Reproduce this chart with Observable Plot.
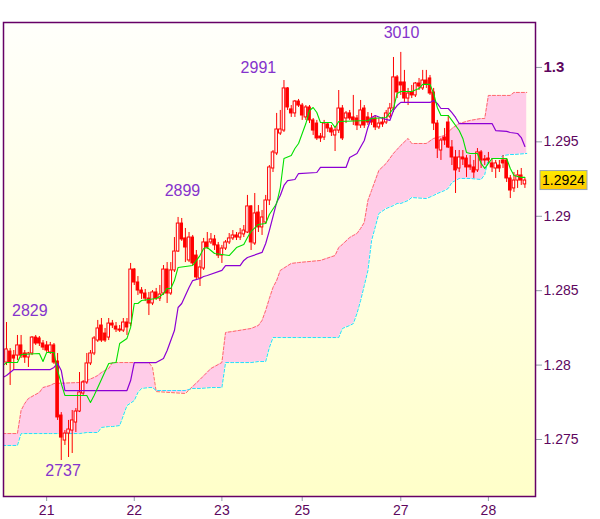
<!DOCTYPE html>
<html><head><meta charset="utf-8">
<script src="https://cdn.jsdelivr.net/npm/d3@7"></script>
<script src="https://cdn.jsdelivr.net/npm/@observablehq/plot@0.6"></script>
<style>body{margin:0;background:#fff}#chart{width:600px;height:519px}</style>
</head><body><div id="chart"></div>
<script>
// ---- hourly candles, bar index 0..142 ----
const open = [1.28017,1.28091,1.28064,1.28064,1.28132,1.28078,1.28051,1.28078,1.28185,1.28179,
1.28145,1.28132,1.28085,1.28132,1.28024,1.27661,1.27493,1.27540,1.27560,1.27614,
1.27688,1.27809,1.27883,1.28011,1.28078,1.28165,1.28266,1.28212,1.28185,1.28279,
1.28259,1.28239,1.28232,1.28286,1.28279,1.28642,1.28555,1.28501,1.28481,1.28447,
1.28414,1.28488,1.28447,1.28481,1.28642,1.28481,1.28636,1.28763,1.28951,1.28851,
1.28703,1.28857,1.28736,1.28582,1.28649,1.28824,1.28824,1.28844,1.28804,1.28736,
1.28783,1.28824,1.28851,1.28871,1.28857,1.28878,1.28891,1.29066,1.28817,1.29025,
1.28925,1.28958,1.29106,1.29321,1.29422,1.29556,1.29576,1.29859,1.29718,1.29691,
1.29771,1.29744,1.29664,1.29731,1.29644,1.29623,1.29536,1.29529,1.29617,1.29590,
1.29543,1.29576,1.29724,1.29657,1.29691,1.29664,1.29657,1.29610,1.29724,1.29664,
1.29657,1.29657,1.29597,1.29630,1.29630,1.29670,1.29724,1.29933,1.29899,1.29899,
1.29791,1.29832,1.29812,1.29892,1.29859,1.29912,1.29926,1.29832,1.29623,1.29442,
1.29529,1.29630,1.29462,1.29395,1.29321,1.29395,1.29388,1.29341,1.29328,1.29308,
1.29429,1.29382,1.29388,1.29355,1.29321,1.29341,1.29375,1.29375,1.29254,1.29187,
1.29240,1.29274,1.29214];
const close = [1.28105,1.28017,1.28044,1.28132,1.28064,1.28051,1.28078,1.28185,1.28145,1.28145,
1.28118,1.28098,1.28132,1.28017,1.27648,1.27513,1.27540,1.27567,1.27628,1.27688,
1.27816,1.27883,1.28011,1.28078,1.28179,1.28246,1.28165,1.28165,1.28279,1.28266,
1.28239,1.28232,1.28286,1.28253,1.28642,1.28555,1.28501,1.28481,1.28447,1.28414,
1.28488,1.28447,1.28474,1.28642,1.28481,1.28636,1.28763,1.28951,1.28844,1.28790,
1.28857,1.28683,1.28589,1.28656,1.28824,1.28790,1.28844,1.28804,1.28736,1.28783,
1.28824,1.28851,1.28871,1.28857,1.28884,1.28904,1.29066,1.28824,1.29019,1.28925,
1.28992,1.29106,1.29328,1.29429,1.29583,1.29583,1.29859,1.29731,1.29691,1.29771,
1.29744,1.29677,1.29731,1.29644,1.29576,1.29523,1.29523,1.29623,1.29590,1.29563,
1.29576,1.29724,1.29523,1.29691,1.29657,1.29644,1.29610,1.29711,1.29610,1.29630,
1.29630,1.29597,1.29623,1.29617,1.29691,1.29724,1.29933,1.29832,1.29879,1.29791,
1.29825,1.29812,1.29892,1.29872,1.29912,1.29886,1.29825,1.29623,1.29455,1.29509,
1.29509,1.29462,1.29395,1.29308,1.29395,1.29382,1.29328,1.29328,1.29294,1.29429,
1.29375,1.29375,1.29375,1.29328,1.29355,1.29321,1.29355,1.29254,1.29173,1.29240,
1.29274,1.29240,1.29240];
const high = [1.28286,1.28111,1.28098,1.28199,1.28199,1.28098,1.28085,1.28192,1.28199,1.28192,
1.28165,1.28158,1.28152,1.28145,1.28078,1.27681,1.27560,1.27628,1.27695,1.27708,
1.27950,1.27896,1.28078,1.28098,1.28192,1.28300,1.28313,1.28246,1.28313,1.28300,
1.28286,1.28266,1.28313,1.28313,1.28683,1.28649,1.28595,1.28521,1.28508,1.28488,
1.28501,1.28515,1.28535,1.28669,1.28689,1.28689,1.28857,1.28992,1.28985,1.28918,
1.28891,1.28871,1.28770,1.28703,1.28851,1.28891,1.28884,1.28871,1.28824,1.28804,
1.28837,1.28884,1.28904,1.28891,1.28918,1.28938,1.29140,1.29072,1.29153,1.29072,
1.29039,1.29140,1.29341,1.29442,1.29691,1.29711,1.29912,1.29865,1.29744,1.29778,
1.29785,1.29758,1.29744,1.29744,1.29657,1.29644,1.29556,1.29644,1.29630,1.29610,
1.29597,1.29845,1.29744,1.29704,1.29711,1.29812,1.29677,1.29778,1.29744,1.29697,
1.29691,1.29677,1.29657,1.29664,1.29711,1.29758,1.30067,1.29946,1.30101,1.29980,
1.29859,1.29879,1.29899,1.29926,1.29980,1.29980,1.29946,1.29859,1.29644,1.29523,
1.29590,1.29677,1.29509,1.29442,1.29442,1.29442,1.29408,1.29408,1.29375,1.29455,
1.29442,1.29408,1.29429,1.29388,1.29375,1.29375,1.29408,1.29388,1.29274,1.29294,
1.29308,1.29321,1.29254];
const low = [1.27997,1.27863,1.27964,1.28031,1.28044,1.28011,1.27984,1.28064,1.28132,1.28125,
1.28098,1.28085,1.28071,1.28004,1.27628,1.27359,1.27460,1.27379,1.27406,1.27547,
1.27681,1.27796,1.27870,1.27997,1.28064,1.28152,1.28152,1.28152,1.28165,1.28246,
1.28219,1.28219,1.28219,1.28199,1.28259,1.28535,1.28468,1.28441,1.28427,1.28333,
1.28400,1.28434,1.28427,1.28468,1.28414,1.28468,1.28622,1.28757,1.28831,1.28689,
1.28689,1.28669,1.28575,1.28528,1.28636,1.28777,1.28810,1.28770,1.28716,1.28683,
1.28770,1.28810,1.28837,1.28837,1.28837,1.28857,1.28884,1.28770,1.28804,1.28891,
1.28871,1.28945,1.29072,1.29294,1.29408,1.29543,1.29563,1.29711,1.29664,1.29664,
1.29731,1.29644,1.29644,1.29623,1.29543,1.29509,1.29496,1.29509,1.29563,1.29536,
1.29435,1.29556,1.29509,1.29623,1.29644,1.29610,1.29576,1.29590,1.29590,1.29610,
1.29610,1.29576,1.29583,1.29597,1.29617,1.29657,1.29697,1.29791,1.29812,1.29765,
1.29744,1.29791,1.29798,1.29845,1.29845,1.29859,1.29812,1.29576,1.29388,1.29375,
1.29476,1.29455,1.29341,1.29153,1.29294,1.29341,1.29261,1.29308,1.29254,1.29294,
1.29321,1.29341,1.29355,1.29294,1.29254,1.29294,1.29321,1.29227,1.29119,1.29160,
1.29187,1.29207,1.29187];

// ---- Ichimoku lines: [bar index, value] ----
const tenkanPts = [[-1,1.27997],[0,1.28017],[3,1.28017],[4,1.28071],[9,1.28078],[10,1.28024],[11,1.28085],[13,1.28085],
[14,1.27964],[15,1.27876],[16,1.27796],[22,1.27796],[23,1.27749],[24,1.27796],[25,1.27849],[28,1.28011],[30,1.28017],
[31,1.28145],[33,1.28179],[34,1.28253],[35,1.28414],[36,1.28414],[37,1.28434],[41,1.28447],[42,1.28461],[43,1.28481],
[44,1.28515],[45,1.28515],[46,1.28568],[47,1.28656],[51,1.28669],[53,1.28736],[54,1.28783],[55,1.28790],[56,1.28770],
[57,1.28750],[61,1.28736],[63,1.28790],[65,1.28810],[66,1.28857],[67,1.28898],[69,1.28945],[71,1.28951],[72,1.29012],
[74,1.29086],[75,1.29193],[76,1.29388],[78,1.29408],[79,1.29455],[80,1.29489],[81,1.29556],[82,1.29623],[83,1.29711],
[84,1.29731],[85,1.29697],[86,1.29630],[89,1.29630],[90,1.29597],[91,1.29637],[99,1.29644],[100,1.29657],[104,1.29664],
[106,1.29724],[107,1.29825],[108,1.29838],[111,1.29838],[113,1.29859],[114,1.29886],[116,1.29886],[117,1.29825],
[118,1.29731],[119,1.29677],[121,1.29677],[122,1.29644],[124,1.29576],[125,1.29523],[126,1.29429],[127,1.29422],
[129,1.29422],[130,1.29355],[131,1.29321],[132,1.29355],[133,1.29388],[137,1.29388],[138,1.29321],[139,1.29274],
[141,1.29261],[142,1.29261]];
const kijunPts = [[-1,1.27917],[0,1.27930],[2,1.27970],[12,1.27970],[13,1.27984],[14,1.28011],[15,1.27964],[16,1.27829],
[33,1.27829],[34,1.27896],[35,1.28017],[41,1.28017],[43,1.28044],[44,1.28098],[46,1.28232],[47,1.28387],[48,1.28414],
[50,1.28521],[51,1.28568],[53,1.28582],[54,1.28595],[55,1.28602],[59,1.28636],[60,1.28669],[64,1.28669],[65,1.28703],
[66,1.28723],[70,1.28757],[71,1.28817],[72,1.28904],[74,1.29093],[75,1.29140],[76,1.29207],[77,1.29240],[79,1.29247],
[80,1.29287],[85,1.29294],[86,1.29328],[93,1.29328],[94,1.29395],[96,1.29422],[98,1.29509],[99,1.29597],[100,1.29664],
[101,1.29677],[103,1.29657],[105,1.29644],[106,1.29711],[107,1.29744],[108,1.29765],[116,1.29765],[117,1.29778],
[118,1.29758],[119,1.29724],[121,1.29724],[122,1.29697],[123,1.29664],[124,1.29623],[133,1.29623],[134,1.29576],
[137,1.29570],[138,1.29563],[140,1.29556],[141,1.29529],[142,1.29469]];

// ---- Cloud (senkou spans) read at common bar indices ----
const cloudIdx = [-1,3,4,5,6,7,9,10,12,13,20,22,24,25,26,28,29,31,33,35,36,37,39,40,41,49,51,53,56,59,
60,62,67,69,70,71,72,73,74,75,78,80,86,90,91,92,94,95,96,97,98,99,100,102,104,106,107,108,110,111,
115,117,118,120,121,122,124,127,130,131,132,135,136,138,139,142.5];
const spanA = [1.27540,1.27540,1.27695,1.27742,1.27775,1.27789,1.27816,1.27849,1.27863,1.27876,
1.27883,1.27896,1.27917,1.27930,1.27950,1.27977,1.28017,1.28017,1.28017,1.28017,
1.28017,1.28017,1.28017,1.27984,1.27822,1.27809,1.27856,1.27903,1.27977,1.28017,
1.28219,1.28226,1.28246,1.28266,1.28300,1.28367,1.28447,1.28521,1.28568,1.28636,
1.28683,1.28689,1.28703,1.28736,1.28790,1.28810,1.28857,1.28871,1.28884,1.28918,
1.28958,1.29106,1.29173,1.29308,1.29355,1.29422,1.29449,1.29476,1.29523,1.29489,
1.29489,1.29523,1.29529,1.29543,1.29563,1.29590,1.29623,1.29644,1.29657,1.29657,
1.29812,1.29812,1.29812,1.29812,1.29832,1.29832];
const spanB = [1.27460,1.27460,1.27540,1.27540,1.27540,1.27540,1.27540,1.27540,1.27540,1.27540,
1.27540,1.27547,1.27547,1.27547,1.27581,1.27587,1.27587,1.27594,1.27728,1.27762,
1.27816,1.27843,1.27849,1.27849,1.27829,1.27829,1.27843,1.27843,1.27849,1.27849,
1.28017,1.28017,1.28017,1.28024,1.28024,1.28024,1.28118,1.28185,1.28185,1.28185,
1.28185,1.28185,1.28185,1.28185,1.28185,1.28246,1.28266,1.28279,1.28347,1.28434,
1.28535,1.28636,1.28837,1.29019,1.29052,1.29072,1.29086,1.29086,1.29106,1.29126,
1.29119,1.29140,1.29153,1.29173,1.29187,1.29227,1.29254,1.29254,1.29247,1.29281,
1.29388,1.29388,1.29408,1.29415,1.29415,1.29422];

// ---- axes & annotations ----
const yTicks = [1.275, 1.28, 1.285, 1.29, 1.295, 1.3];
const dayTicks = [11, 35, 59, 81, 108, 132];
const dayLabels = ["21", "22", "23", "25", "27", "28"];
const peakIdx = [6.4, 15.5, 48.2, 69, 108.2];
const peakPrice = [1.2829, 1.2737, 1.2899, 1.2991, 1.3010];

const candles = open.map((o, i) => ({i, open: o, close: close[i], high: high[i], low: low[i]}));
const tenkan = tenkanPts.map(([i, v]) => ({i, v}));
const kijun = kijunPts.map(([i, v]) => ({i, v}));
const cloud = cloudIdx.map((i, k) => ({i, a: spanA[k], b: spanB[k]}));
const peaks = peakIdx.map((i, k) => ({i, p: peakPrice[k], t: ((peakPrice[k] - 1) * 10000).toFixed(0)}));

const labelDy = [-11, 12, -27, -13, -20];
const font = "'Liberation Sans', Arial, sans-serif";

const plot = Plot.plot({
  width: 600, height: 519,
  marginLeft: 3, marginRight: 65, marginTop: 22, marginBottom: 23,
  style: {fontFamily: font, fontSize: "14px", background: "#ffffff"},
  x: {domain: [-0.82, 144.9], axis: null},
  y: {domain: [1.27117, 1.30302], axis: null},
  color: {type: "identity"},
  marks: [
    Plot.areaY(cloud, {x: "i", y1: "a", y2: "b", fill: "#ffcce8", clip: true}),
    Plot.lineY(cloud, {x: "i", y: "a", stroke: "#ff6a6a", strokeWidth: 1, strokeDasharray: "3,2", clip: true}),
    Plot.lineY(cloud, {x: "i", y: "b", stroke: "#22ddff", strokeWidth: 1, strokeDasharray: "3,2", clip: true}),
    Plot.ruleX(candles, {x: "i", y1: "low", y2: "high", stroke: "#ff0000", strokeWidth: 1}),
    Plot.rect(candles, {x1: d => d.i - 0.35, x2: d => d.i + 0.35, y1: "open", y2: "close",
      fill: d => d.close > d.open ? "#ffffff" : "#ff0000", stroke: "#ff0000", strokeWidth: 1}),
    Plot.lineY(kijun, {x: "i", y: "v", stroke: "#8c00d4", strokeWidth: 1.2, clip: true}),
    Plot.lineY(tenkan, {x: "i", y: "v", stroke: "#00e000", strokeWidth: 1.1, clip: true}),
    Plot.axisY({anchor: "right", ticks: yTicks, tickSize: 6, tickPadding: 2, label: null,
      tickFormat: d => String(+d.toFixed(3)), stroke: "#8f9ba6", fill: "#5e065e", fontSize: 14}),
    Plot.axisX({anchor: "bottom", ticks: dayTicks, tickSize: 5, tickPadding: 4, label: null,
      tickFormat: d => dayLabels[dayTicks.indexOf(d)], stroke: "#8f9ba6", fill: "#5e065e", fontSize: 14}),
    Plot.frame({stroke: "#660066", strokeWidth: 1.5}),
    ...peaks.map((p, k) => Plot.text([p], {x: "i", y: "p", text: "t", dy: labelDy[k],
      fill: "#8533cc", fontSize: 16, fontFamily: font}))
  ]
});

const svg = d3.select(plot);
const xs = plot.scale("x"), ys = plot.scale("y");
const defs = svg.insert("defs", ":first-child");
const bg = defs.append("linearGradient").attr("id", "bgGrad").attr("x1", 0).attr("y1", 0).attr("x2", 0).attr("y2", 1);
bg.append("stop").attr("offset", "0%").attr("stop-color", "#fffffb");
bg.append("stop").attr("offset", "100%").attr("stop-color", "#ffffc9");
const pg = defs.append("linearGradient").attr("id", "boxGrad").attr("x1", 0).attr("y1", 0).attr("x2", 0).attr("y2", 1);
pg.append("stop").attr("offset", "0%").attr("stop-color", "#ffec00");
pg.append("stop").attr("offset", "100%").attr("stop-color", "#ffc800");

const [x0, x1] = xs.range, [yb, yt] = ys.range;
svg.insert("rect", "g").attr("x", x0).attr("y", Math.min(yt, yb)).attr("width", x1 - x0)
  .attr("height", Math.abs(yb - yt)).attr("fill", "url(#bgGrad)");

svg.selectAll("text").filter(function () { return this.textContent === "1.3"; })
  .attr("font-weight", "bold").attr("font-size", 15).style("font-weight", "bold").style("font-size", "15px");

const last = close[close.length - 1];
const py = ys.apply(last);
svg.append("rect").attr("x", x1 + 5).attr("y", py - 9.5).attr("width", 47).attr("height", 19)
  .attr("fill", "url(#boxGrad)").attr("stroke", "#9aa6b2").attr("stroke-width", 1);
svg.append("text").attr("x", x1 + 28.5).attr("y", py).attr("text-anchor", "middle")
  .attr("dominant-baseline", "central").attr("font-family", font).attr("font-size", 14)
  .attr("fill", "#000").text(last.toFixed(4));

document.getElementById("chart").appendChild(plot);
</script>
</body></html>
